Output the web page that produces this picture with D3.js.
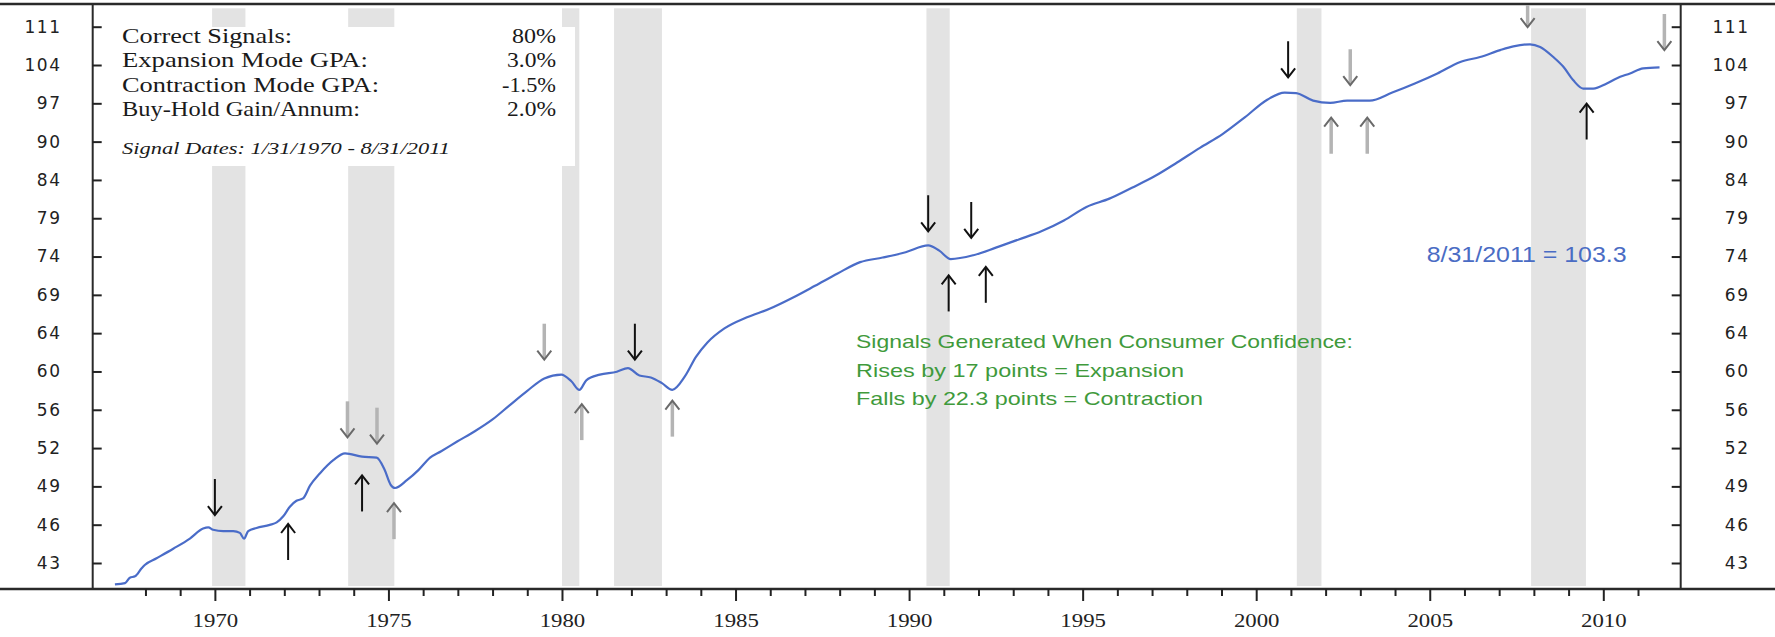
<!DOCTYPE html>
<html><head><meta charset="utf-8">
<script src="https://cdn.jsdelivr.net/npm/d3@7"></script>
<style>body{margin:0;background:#fff} svg{display:block}</style>
</head><body><svg id="c" width="1775" height="637"></svg>
<script>
// ---- data ----
const dates = [1967.12,1967.41,1967.55,1967.70,1967.89,1967.98,1968.32,1968.80,1969.28,1969.66,1969.81,1969.95,1970.24,1970.53,1970.72,1970.84,1970.96,1971.20,1971.58,1971.78,1971.97,1972.16,1972.35,1972.54,1972.74,1973.03,1973.42,1973.75,1974.24,1974.66,1974.89,1975.06,1975.19,1975.54,1975.87,1976.20,1976.52,1976.98,1977.50,1977.99,1978.48,1979.00,1979.49,1979.98,1980.27,1980.50,1980.70,1981.09,1981.58,1981.90,1982.23,1982.56,1982.88,1983.18,1983.54,1983.86,1984.19,1984.68,1985.33,1985.98,1986.63,1987.29,1987.94,1988.59,1989.24,1989.90,1990.55,1990.87,1991.20,1991.85,1992.50,1993.16,1993.81,1994.46,1995.11,1995.77,1996.42,1997.07,1997.72,1998.38,1999.03,1999.68,2000.33,2000.82,2001.15,2001.64,2002.13,2002.62,2003.27,2003.92,2004.57,2005.22,2005.88,2006.45,2007.03,2007.41,2007.89,2008.18,2008.56,2008.85,2009.13,2009.42,2009.71,2010.10,2010.38,2010.77,2011.15,2011.62];
const values = [41.4,41.5,41.9,42.0,42.6,42.85,43.36,44.1,44.9,45.7,45.8,45.6,45.5,45.5,45.35,44.9,45.5,45.75,46.0,46.2,46.7,47.5,48.0,48.2,49.3,50.4,51.6,52.2,51.9,51.8,50.7,49.4,49.1,49.8,50.7,51.8,52.4,53.3,54.3,55.4,56.8,58.3,59.6,60.0,59.3,58.4,59.4,60.0,60.3,60.7,59.9,59.7,59.1,58.4,59.8,61.9,63.5,65.1,66.4,67.4,68.7,70.2,71.75,73.2,73.8,74.5,75.4,74.7,73.6,74.1,75.1,76.2,77.3,78.8,80.7,81.9,83.5,85.2,87.3,89.6,91.8,94.6,97.6,98.8,98.7,97.4,97.0,97.4,97.4,98.8,100.4,102.2,104.3,105.2,106.5,107.2,107.6,107.1,105.2,103.4,101.0,99.5,99.5,100.4,101.3,102.2,103.1,103.3];

const recStart = [1969.92,1973.84,1980.0,1981.5,1990.5,2001.17,2007.92];
const recEnd   = [1970.88,1975.17,1980.5,1982.88,1991.17,2001.88,2009.5];

const arrowDates = [1970.0,1972.11,1973.82,1974.67,1974.24,1975.16,1979.49,1980.57,1982.1,1983.18,1990.55,1991.79,1991.14,1992.21,2000.92,2002.71,2002.16,2003.2,2007.82,2009.52,2011.76];
const arrowTips  = [46.8,46.07,53.7,53.1,50.2,47.8,61.6,56.95,61.6,57.3,77.3,76.4,71.5,72.6,101.5,100.1,94.5,94.5,110.9,96.9,106.5];
const arrowDirs  = ["down","up","down","down","up","up","down","up","down","up","down","down","up","up","down","down","up","up","down","up","down"];
const arrowShades= ["black","black","gray","gray","black","gray","gray","gray","black","gray","black","black","black","black","black","gray","gray","gray","gray","black","gray"];

const yTickLabels = [43,46,49,52,56,60,64,69,74,79,84,90,97,104,111];
const xTickYears = d3.range(1968, 2012);

const statLabels = ["Correct Signals:","Expansion Mode GPA:","Contraction Mode GPA:","Buy-Hold Gain/Annum:"];
const statValues = ["80%","3.0%","-1.5%","2.0%"];
const signalDatesText = "Signal Dates: 1/31/1970 - 8/31/2011";
const greenLines = ["Signals Generated When Consumer Confidence:","Rises by 17 points = Expansion","Falls by 22.3 points = Contraction"];
const lastLabel = "8/31/2011 = 103.3";

// ---- layout ----
const svg = d3.select('#c');
const L = 92.7, R = 1680.7, T = 4, B = 589;
const x = d3.scaleLinear().domain([1966.48, 2012.23]).range([L, R]);
const y = d3.scaleLog().domain([43, 111]).range([563, 26.7]);

svg.append('rect').attr('width',1775).attr('height',637).attr('fill','#fff');
svg.append('defs').append('clipPath').attr('id','clip').append('rect')
  .attr('x',L).attr('y',T+1).attr('width',R-L).attr('height',B-T-1);

// recession shading
svg.append('g').selectAll('rect').data(recStart).join('rect')
  .attr('x', d => x(d)).attr('width', (d,i) => x(recEnd[i]) - x(d))
  .attr('y', 8.3).attr('height', 586 - 8.3).attr('fill', '#e3e3e3');

// stats box
svg.append('rect').attr('x',104).attr('y',27).attr('width',471).attr('height',139).attr('fill','#fff');

// line
svg.append('path')
  .datum(dates.map((d,i) => [d, values[i]]))
  .attr('clip-path','url(#clip)')
  .attr('fill','none').attr('stroke','#4a6cc8').attr('stroke-width',2.2)
  .attr('d', d3.line().x(d => x(d[0])).y(d => y(d[1])).curve(d3.curveMonotoneX));

// frame
const frame = svg.append('g').attr('stroke','#2a2a2a');
frame.append('line').attr('x1',0).attr('x2',1775).attr('y1',T).attr('y2',T).attr('stroke-width',2.5);
frame.append('line').attr('x1',0).attr('x2',1775).attr('y1',B).attr('y2',B).attr('stroke-width',2.5);
frame.append('line').attr('x1',L).attr('x2',L).attr('y1',T).attr('y2',B).attr('stroke-width',2);
frame.append('line').attr('x1',R).attr('x2',R).attr('y1',T).attr('y2',B).attr('stroke-width',2);

// x axis
const gx = svg.append('g').attr('transform',`translate(0,${B})`)
  .call(d3.axisBottom(x).tickValues(xTickYears).tickSize(7).tickFormat(d => d % 5 === 0 ? d : ''));
gx.select('.domain').remove();
gx.selectAll('.tick line').attr('stroke','#222').attr('stroke-width',2)
  .attr('y2', d => d % 5 === 0 ? 12 : 7);
gx.selectAll('.tick text').attr('y',38.5).attr('dy',null)
  .attr('font-family','"Liberation Serif", serif').attr('font-size',19).attr('fill','#222')
  .attr('transform','scale(1.2,1)');

// y axes
const tickPos = yTickLabels.map((v,i) => 43 * Math.pow(111/43, i/(yTickLabels.length-1)));
const gl = svg.append('g').attr('transform',`translate(${L},0)`)
  .call(d3.axisLeft(y).tickValues(tickPos).tickFormat((d,i) => yTickLabels[i]).tickSizeInner(-9).tickSizeOuter(0).tickPadding(31));
const gr = svg.append('g').attr('transform',`translate(${R},0)`)
  .call(d3.axisRight(y).tickValues(tickPos).tickFormat((d,i) => yTickLabels[i]).tickSizeInner(-9).tickSizeOuter(0).tickPadding(69));
[gl, gr].forEach(g => {
  g.select('.domain').remove();
  g.selectAll('.tick line').attr('stroke','#222').attr('stroke-width',2);
  g.selectAll('.tick text').attr('font-family','"DejaVu Sans", sans-serif').attr('font-size',17)
    .attr('fill','#222').attr('letter-spacing',1.6);
});
gr.selectAll('.tick text').attr('text-anchor','end');

// arrows
const ga = svg.append('g').attr('clip-path','url(#clip)');
arrowDates.forEach((d,i) => {
  const ax = x(d), ty = y(arrowTips[i]);
  const dir = arrowDirs[i] === 'down' ? -1 : 1;
  const gray = arrowShades[i] === 'gray';
  const len = 36, hw = 7, hh = 9;
  ga.append('line').attr('x1',ax).attr('x2',ax).attr('y1',ty + dir*len).attr('y2',ty + dir*1)
    .attr('stroke', gray ? '#b4b4b4' : '#111').attr('stroke-width', gray ? 3.5 : 2);
  ga.append('path').attr('d',`M${ax-hw},${ty+dir*hh}L${ax},${ty}L${ax+hw},${ty+dir*hh}`)
    .attr('fill','none').attr('stroke', gray ? '#6a6a6a' : '#111').attr('stroke-width',2);
});

// stats text
const rowBase = [43, 67, 92, 116];
const labW = [170, 246, 257, 238];
const valW = [44, 49, 54, 49];
statLabels.forEach((t,i) => {
  svg.append('text').attr('x',122).attr('y',rowBase[i]).text(t)
    .attr('font-family','"Liberation Serif", serif').attr('font-size',21).attr('fill','#1a1a1a')
    .attr('textLength',labW[i]).attr('lengthAdjust','spacingAndGlyphs');
  svg.append('text').attr('x',556).attr('y',rowBase[i]).text(statValues[i])
    .attr('text-anchor','end')
    .attr('font-family','"Liberation Serif", serif').attr('font-size',21).attr('fill','#1a1a1a')
    .attr('textLength',valW[i]).attr('lengthAdjust','spacingAndGlyphs');
});
svg.append('text').attr('x',122).attr('y',154).text(signalDatesText)
  .attr('font-family','"Liberation Serif", serif').attr('font-style','italic').attr('font-size',17).attr('fill','#1a1a1a')
  .attr('textLength',328).attr('lengthAdjust','spacingAndGlyphs');

// green annotation
const gBase = [348.4, 376.7, 405];
const gW = [497, 328, 347];
greenLines.forEach((t,i) => {
  svg.append('text').attr('x',856).attr('y',gBase[i]).text(t)
    .attr('font-family','"Liberation Sans", Arial, sans-serif').attr('font-size',19).attr('fill','#3f9a3c')
    .attr('textLength',gW[i]).attr('lengthAdjust','spacingAndGlyphs');
});

// last value label
svg.append('text').attr('x',1426.7).attr('y',261.5).text(lastLabel)
  .attr('font-family','"Liberation Sans", Arial, sans-serif').attr('font-size',22).attr('fill','#4a6cc4')
  .attr('textLength',200).attr('lengthAdjust','spacingAndGlyphs');
</script></body></html>
